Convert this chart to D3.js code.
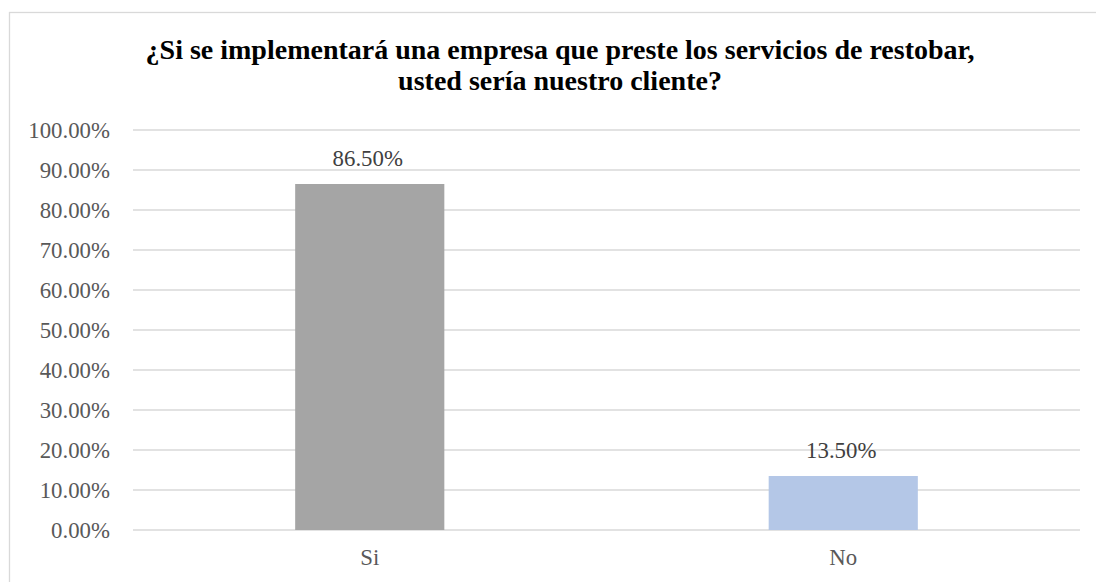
<!DOCTYPE html>
<html>
<head>
<meta charset="utf-8">
<script src="https://cdn.jsdelivr.net/npm/d3@7"></script>
<style>
  html, body { margin: 0; padding: 0; background: #fff; }
  svg { display: block; }
</style>
</head>
<body>
<svg id="chart" width="1096" height="582"></svg>
<script>
// Survey answers and their shares
const categories = ["Si", "No"];
const values = [0.865, 0.135];
const barColors = ["#a5a5a5", "#b4c7e7"];
const yTicks = [0, 0.1, 0.2, 0.3, 0.4, 0.5, 0.6, 0.7, 0.8, 0.9, 1.0];
const titleLines = [
  "¿Si se implementará una empresa que preste los servicios de restobar,",
  "usted sería nuestro cliente?"
];

const svg = d3.select("#chart");
const W = 1096, H = 582;
const serif = "Liberation Serif";
const textColor = "#595959";

// Outer chart frame
svg.append("rect")
  .attr("x", 9.5).attr("y", 12.5)
  .attr("width", W).attr("height", H)
  .attr("fill", "#fff")
  .attr("stroke", "#d9d9d9").attr("stroke-width", 1.3);

const plot = { left: 133, right: 1080, top: 130, bottom: 530 };

const x = d3.scaleBand()
  .domain(categories)
  .range([plot.left, plot.right])
  .paddingInner(0.685)
  .paddingOuter(0.3425);

const y = d3.scaleLinear()
  .domain([0, 1])
  .range([plot.bottom, plot.top]);

// Title
const title = svg.append("text")
  .attr("text-anchor", "middle")
  .attr("font-family", serif)
  .attr("font-weight", "bold")
  .attr("font-size", 28)
  .attr("fill", "#000");
title.selectAll("tspan")
  .data(titleLines)
  .join("tspan")
  .attr("x", 560)
  .attr("y", (d, i) => 59 + i * 31)
  .text(d => d);

// Horizontal gridlines
svg.append("g")
  .selectAll("line")
  .data(yTicks)
  .join("line")
  .attr("x1", plot.left).attr("x2", plot.right)
  .attr("y1", d => y(d)).attr("y2", d => y(d))
  .attr("stroke", "#d9d9d9").attr("stroke-width", 1.3);

// Y axis labels
const yAxis = d3.axisLeft(y)
  .tickValues(yTicks)
  .tickFormat(d3.format(".2%"))
  .tickSize(0)
  .tickPadding(23);
const gy = svg.append("g")
  .attr("transform", `translate(${plot.left},0)`)
  .call(yAxis);
gy.select(".domain").remove();
gy.attr("font-family", serif).attr("font-size", 22.8);
gy.selectAll("text").attr("fill", textColor);

// X axis labels
const xAxis = d3.axisBottom(x).tickSize(0).tickPadding(19);
const gx = svg.append("g")
  .attr("transform", `translate(0,${plot.bottom})`)
  .call(xAxis);
gx.select(".domain").remove();
gx.attr("font-family", serif).attr("font-size", 22.8);
gx.selectAll("text").attr("fill", textColor);

// Bars
svg.append("g")
  .selectAll("rect")
  .data(values)
  .join("rect")
  .attr("x", (d, i) => x(categories[i]))
  .attr("width", x.bandwidth())
  .attr("y", d => y(d))
  .attr("height", d => y(0) - y(d))
  .attr("fill", (d, i) => barColors[i]);

// Value labels
svg.append("g")
  .attr("font-family", serif)
  .attr("font-size", 22.8)
  .selectAll("text")
  .data(values)
  .join("text")
  .attr("x", (d, i) => x(categories[i]) + x.bandwidth() / 2 - 2)
  .attr("y", d => y(d) - 18)
  .attr("text-anchor", "middle")
  .attr("fill", "#404040")
  .text(d => d3.format(".2%")(d));
</script>
</body>
</html>
